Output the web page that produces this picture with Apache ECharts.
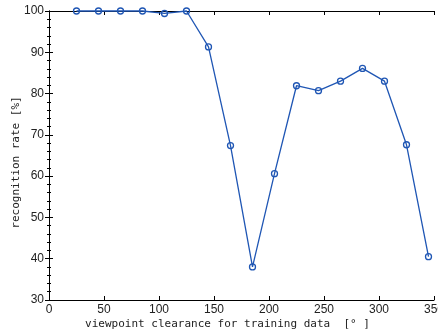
<!DOCTYPE html>
<html><head><meta charset="utf-8">
<script src="https://cdn.jsdelivr.net/npm/echarts@6/dist/echarts.min.js"></script>
<style>html,body{margin:0;padding:0;background:#fff;}#c{width:438px;height:334px;}</style>
</head><body><div id="c"></div>
<script>
const clearance = [25, 45, 65, 85, 105, 125, 145, 165, 185, 205, 225, 245, 265, 285, 305, 325, 345];
const recognitionRate = [100, 100, 100, 100, 99.4, 100, 91.3, 67.4, 38.0, 60.6, 81.9, 80.7, 83.0, 86.1, 83.0, 67.6, 40.5];
const xName = 'viewpoint clearance for training data  [° ]';
const yName = 'recognition rate [%]';

const chart = echarts.init(document.getElementById('c'));
const tickFont = {fontFamily: 'Liberation Sans Narrow, Liberation Sans, sans-serif', fontSize: 12, color: '#222'};
const nameFont = {fontFamily: 'DejaVu Sans Mono, monospace', fontSize: 11, color: '#222'};
const lineStyle = {color: '#000', width: 1};
chart.setOption({
  animation: false,
  backgroundColor: '#fff',
  grid: {left: 49, right: 4, top: 11, bottom: 34, outerBoundsMode: 'none', containLabel: false},
  xAxis: [{
    type: 'value', min: 0, max: 350, interval: 50, position: 'bottom',
    axisLine: {show: true, lineStyle}, 
    axisTick: {show: true, inside: true, length: 4, lineStyle},
    axisLabel: Object.assign({margin: 4}, tickFont),
    splitLine: {show: false},
    name: xName, nameLocation: 'middle', nameGap: 19, nameMoveOverlap: false,
    nameTextStyle: Object.assign({padding: [0, 28, 0, 0]}, nameFont)
  }, {
    type: 'value', min: 0, max: 350, interval: 50, position: 'top',
    axisLine: {show: true, lineStyle},
    axisTick: {show: true, inside: true, length: 4, lineStyle},
    axisLabel: {show: false}, splitLine: {show: false}
  }],
  yAxis: [{
    type: 'value', min: 30, max: 100, interval: 10, position: 'left',
    axisLine: {show: true, lineStyle},
    axisTick: {show: true, inside: true, length: 4, lineStyle},
    minorTick: {show: true, splitNumber: 5, length: 2, lineStyle: {color: '#000', width: 1}},
    axisLabel: Object.assign({margin: 5}, tickFont),
    splitLine: {show: false},
    name: yName, nameLocation: 'middle', nameGap: 27, nameRotate: 90, nameMoveOverlap: false,
    nameTextStyle: Object.assign({padding: [0, 14, 0, 0]}, nameFont)
  }, {
    type: 'value', min: 30, max: 100, interval: 10, position: 'right',
    axisLine: {show: true, lineStyle},
    axisTick: {show: true, inside: true, length: 4, lineStyle},
    minorTick: {show: true, splitNumber: 5, length: 2, lineStyle: {color: '#000', width: 1}},
    axisLabel: {show: false}, splitLine: {show: false}
  }],
  series: [{
    type: 'line',
    data: clearance.map((x, i) => [x, recognitionRate[i]]),
    symbol: 'circle', symbolSize: 6, showAllSymbol: true,
    lineStyle: {color: '#1f56b4', width: 1.3},
    itemStyle: {color: 'transparent', borderColor: '#1f56b4', borderWidth: 1.3},
    clip: false
  }]
});
</script></body></html>
